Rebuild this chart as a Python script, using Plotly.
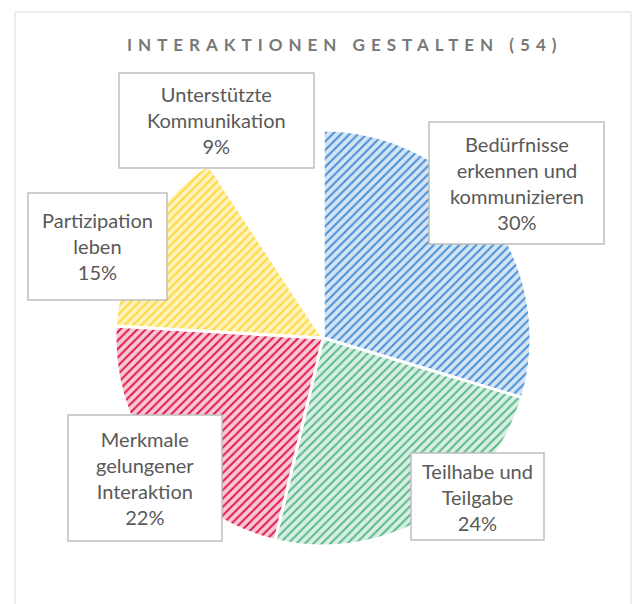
import plotly.graph_objects as go

# ---- data ----
labels = ["Bedürfnisse erkennen und kommunizieren", "Teilhabe und Teilgabe",
          "Merkmale gelungener Interaktion", "Partizipation leben",
          "Unterstützte Kommunikation"]
label_lines = [["Bedürfnisse", "erkennen und", "kommunizieren"],
               ["Teilhabe und", "Teilgabe"],
               ["Merkmale", "gelungener", "Interaktion"],
               ["Partizipation", "leben"],
               ["Unterstützte", "Kommunikation"]]
values = [16, 13, 12, 8, 5]
total = sum(values)
title_text = f"INTERAKTIONEN GESTALTEN ({total})"

# ---- styles ----
fg_colors = ["#4a90d6", "#5bb88c", "#e0194d", "#ffd83a", "#ffffff"]
bg_colors = ["#d3e5f6", "#d8efe3", "#f8c9d4", "#fff3bd", "#ffffff"]

W_FIG, H_FIG = 632, 604
L, T, PW, PH = 115, 130, 416, 416


def px(x):
    return (x - L) / PW


def py(y):
    return (T + PH - y) / PH


# label box pixel rectangles (x0, y0, x1, y1)
boxes = [(429, 122, 604, 244), (411, 453, 544, 540), (68, 415, 222, 541),
         (28, 193, 167, 300), (119, 73, 314, 168)]

fig = go.Figure(go.Pie(
    labels=labels, values=values, sort=False, direction="clockwise",
    rotation=0, textinfo="none", hoverinfo="skip",
    marker=dict(colors=bg_colors,
                line=dict(color="white", width=3),
                pattern=dict(shape="/", fgcolor=fg_colors, bgcolor=bg_colors,
                             size=6, solidity=0.33)),
))

shapes = [dict(type="rect", xref="paper", yref="paper",
               x0=px(15), y0=py(12), x1=px(631), y1=py(620),
               line=dict(color="#d9d9d9", width=1), fillcolor="rgba(0,0,0,0)",
               layer="below")]
annotations = []
for lines, v, b in zip(label_lines, values, boxes):
    pct = round(100 * v / total)
    x0, y0, x1, y1 = b
    shapes.append(dict(type="rect", xref="paper", yref="paper",
                       x0=px(x0), y0=py(y0), x1=px(x1), y1=py(y1),
                       line=dict(color="#bfbfbf", width=1.5), fillcolor="white",
                       layer="above"))
    annotations.append(dict(xref="paper", yref="paper",
                            x=px((x0 + x1) / 2), y=py((y0 + y1) / 2),
                            xanchor="center", yanchor="middle", showarrow=False,
                            text="<br>".join(lines + [f"{pct}%"]),
                            font=dict(family="Lato", size=20, color="#595959"),
                            align="center"))

annotations.append(dict(xref="paper", yref="paper", x=px(344), y=py(45),
                        xanchor="center", yanchor="middle", showarrow=False,
                        text=f"<span style='letter-spacing:6px'><b>{title_text}</b></span>",
                        font=dict(family="Lato", size=17, color="#787878")))

fig.update_layout(
    width=W_FIG, height=H_FIG,
    margin=dict(l=L, r=W_FIG - L - PW, t=T, b=H_FIG - T - PH),
    paper_bgcolor="white", plot_bgcolor="white",
    showlegend=False, shapes=shapes, annotations=annotations,
)
fig.write_html("out.html")
